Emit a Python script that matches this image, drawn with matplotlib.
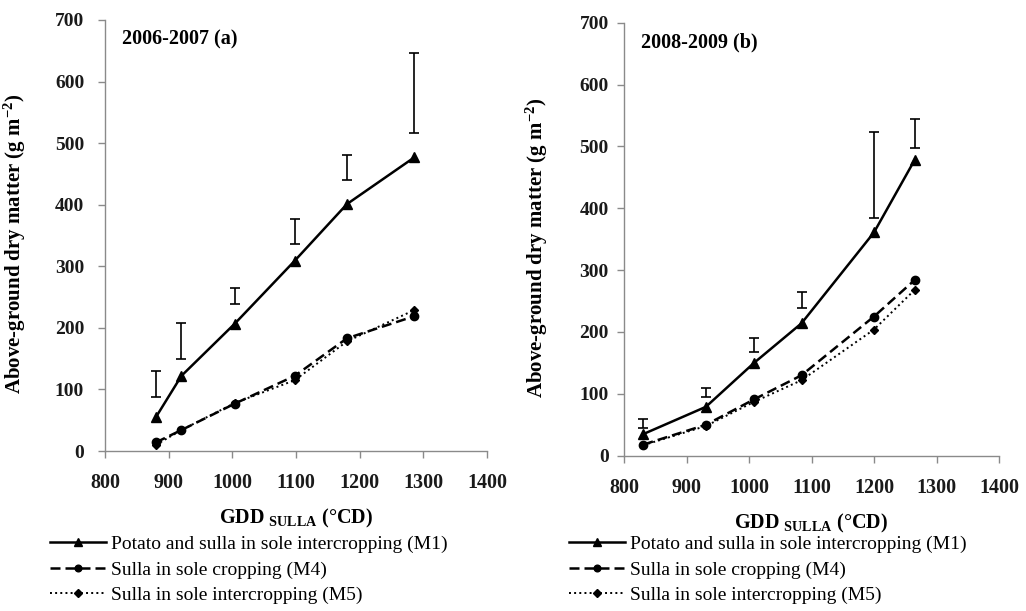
import matplotlib
matplotlib.use("Agg")
import matplotlib.pyplot as plt
import numpy as np

# ---------------- data ----------------
gdd_a = [880, 920, 1004, 1098, 1180, 1286]
m1_a = [55, 122, 207, 309, 401, 477]
m4_a = [14, 34, 77, 122, 183, 219]
m5_a = [10, 34, 78, 115, 178, 229]
err_lo_a = [88, 149, 238, 336, 440, 516]
err_hi_a = [130, 208, 264, 376, 481, 646]

gdd_b = [831, 931, 1008, 1084, 1200, 1265]
m1_b = [35, 79, 150, 214, 361, 478]
m4_b = [18, 50, 91, 130, 225, 284]
m5_b = [17, 48, 87, 122, 204, 268]
err_lo_b = [45, 95, 167, 238, 385, 498]
err_hi_b = [60, 110, 190, 264, 524, 544]

titles = ["2006-2007 (a)", "2008-2009 (b)"]
labels = ["Potato and sulla in sole intercropping (M1)",
          "Sulla in sole cropping (M4)",
          "Sulla in sole intercropping (M5)"]
xticks = [800, 900, 1000, 1100, 1200, 1300, 1400]
yticks = [0, 100, 200, 300, 400, 500, 600, 700]

# ---------------- style ----------------
plt.rcParams['font.family'] = ['Liberation Serif', 'DejaVu Serif']
plt.rcParams['mathtext.fontset'] = 'custom'
plt.rcParams['mathtext.rm'] = 'Liberation Serif:bold'
plt.rcParams['mathtext.it'] = 'Liberation Serif:bold'
plt.rcParams['mathtext.bf'] = 'Liberation Serif:bold'

W, H = 1026, 611
fig = plt.figure(figsize=(W / 100, H / 100), dpi=100)

def px_axes(l, t, r, b):
    return fig.add_axes([l / W, 1 - b / H, (r - l) / W, (b - t) / H])

ax_a = px_axes(105, 20, 487, 451)
ax_b = px_axes(624, 22.7, 999, 455.7)

spine_col = '#8a8a8a'

def draw(ax, gdd, m1, m4, m5, lo, hi, title, ypad, ylab_x):
    h1, = ax.plot(gdd, m1, '-', color='black', lw=1.8, marker='^', ms=7,
                  label=labels[0], zorder=4)
    h2, = ax.plot(gdd, m4, '--', color='black', lw=1.8, marker='o', ms=6,
                  dashes=(4, 2), label=labels[1], zorder=3)
    h3, = ax.plot(gdd, m5, ':', color='black', lw=1.4, marker='D', ms=4.5,
                  label=labels[2], zorder=3)
    lo = np.array(lo); hi = np.array(hi)
    ax.errorbar(gdd, (lo + hi) / 2, yerr=(hi - lo) / 2, fmt='none',
                ecolor='black', elinewidth=1.2, capsize=3.5, capthick=1.2,
                zorder=5)
    ax.set_xlim(800, 1400)
    ax.set_ylim(0, 700)
    ax.set_xticks(xticks)
    ax.set_yticks(yticks)
    for s in ['top', 'right']:
        ax.spines[s].set_visible(False)
    for s in ['left', 'bottom']:
        ax.spines[s].set_color(spine_col)
        ax.spines[s].set_linewidth(1.0)
    ax.tick_params(axis='x', direction='out', length=5, width=1.0,
                   color=spine_col, pad=11, labelsize=14.5)
    ax.tick_params(axis='y', direction='out', length=5, width=1.0,
                   color=spine_col, pad=ypad, labelsize=14)
    for t in ax.get_xticklabels() + ax.get_yticklabels():
        t.set_fontweight('bold')
        t.set_color('#1a1a1a')
    ax.set_xlabel(r'GDD $_{\mathrm{SULLA}}$ (°CD)', fontsize=14.5,
                  fontweight='bold', labelpad=10)
    ax.set_ylabel(r'Above-ground dry matter (g m$^{\mathrm{-2}}$)',
                  fontsize=15, fontweight='bold')
    ax.yaxis.set_label_coords(ylab_x, 0.48)
    ax.text(0.045, 0.955, title, transform=ax.transAxes, fontsize=14.5,
            fontweight='bold', ha='left', va='center')
    return [h1, h2, h3]

hs_a = draw(ax_a, gdd_a, m1_a, m4_a, m5_a, err_lo_a, err_hi_a, titles[0],
            10, -0.2016)
hs_b = draw(ax_b, gdd_b, m1_b, m4_b, m5_b, err_lo_b, err_hi_b, titles[1],
            6, -0.197)

for hs, x0 in [(hs_a, 50), (hs_b, 569)]:
    leg = fig.legend(hs, labels, loc='upper left',
                     bbox_to_anchor=(x0 / W, 1 - 535 / H),
                     frameon=False, borderpad=0, borderaxespad=0,
                     fontsize=14, handlelength=2.9, handletextpad=0.25,
                     labelspacing=0.42, markerscale=0.8)

fig.savefig('out.png', dpi=100)
